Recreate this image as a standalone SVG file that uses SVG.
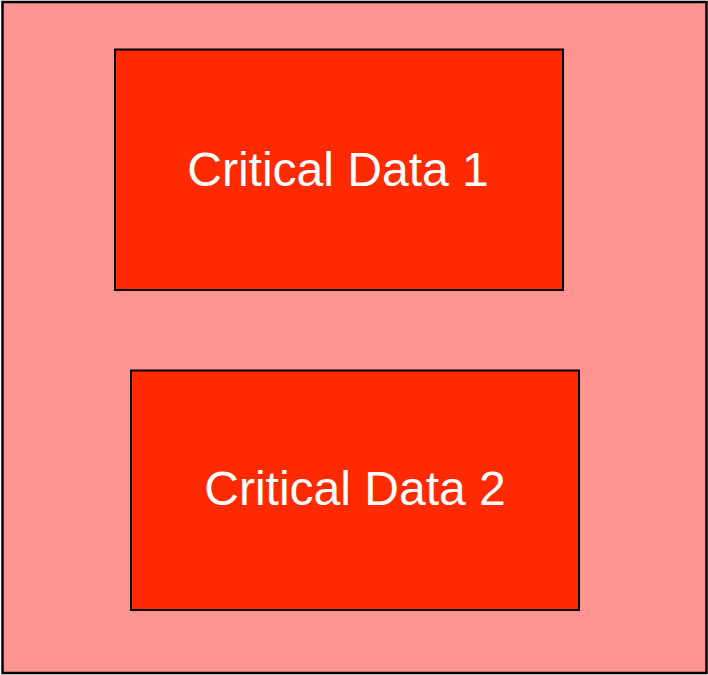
<svg xmlns="http://www.w3.org/2000/svg" width="708" height="675" viewBox="0 0 708 675">
  <style>
    .frame { fill: #ff9490; stroke: #000; stroke-width: 2.5; }
    .box { fill: #ff2a00; stroke: #000; stroke-width: 2; }
    .label { font-family: "Liberation Sans", Arial, sans-serif; font-size: 48px; fill: #fff; text-anchor: middle; }
  </style>
  <g id="container">
    <rect class="frame" x="2.5" y="2" width="704" height="671"/>
  </g>
  <g id="connectors"/>
  <g id="critical-data-1">
    <rect class="box" x="115" y="49.5" width="448" height="240.5"/>
    <text class="label" x="338" y="186">Critical Data 1</text>
  </g>
  <g id="critical-data-2">
    <rect class="box" x="131" y="370.5" width="448" height="239.5"/>
    <text class="label" x="355" y="505">Critical Data 2</text>
  </g>
</svg>
